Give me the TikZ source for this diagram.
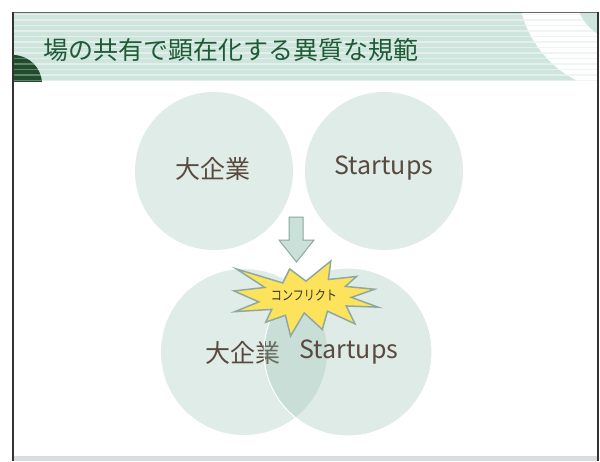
\documentclass[tikz,border=0pt]{standalone}
\usepackage{fontspec}
\newfontfamily\jp{Noto Sans CJK JP}
\definecolor{band}{HTML}{CDE5DC}
\definecolor{stripe}{HTML}{E4EFEB}
\definecolor{stripew}{HTML}{EEF6F3}
\definecolor{darkgreen}{HTML}{1F4D2C}
\definecolor{titlegreen}{HTML}{1E5A35}
\definecolor{circfill}{HTML}{E0ECE8}
\definecolor{circtint}{HTML}{94BEB0}
\definecolor{txtbrown}{HTML}{594A3F}
\definecolor{arrowfill}{HTML}{C9E1D8}
\definecolor{arrowline}{HTML}{8EA79F}
\definecolor{boomfill}{HTML}{FDE35C}
\definecolor{boomline}{HTML}{8FA9A0}
\definecolor{footgray}{HTML}{DADDE0}
\tikzset{
  bigcirc/.style={circle, inner sep=0pt, fill=circfill},
  label24/.style={font=\jp\fontsize{25}{25}\selectfont, text=txtbrown, inner sep=0pt},
  stripeline/.style={line width=1.3pt},
}
\begin{document}
\begin{tikzpicture}[x=1pt,y=-1pt]
\useasboundingbox (0,0) rectangle (600,461);
\fill[white] (0,0) rectangle (600,461);
% header band
\begin{scope}
  \clip (13,12) rectangle (598,81);
  \fill[band] (13,12) rectangle (598,81);
  \foreach \k in {0,...,12} {
    \draw[stripe, stripeline] (13,{14.5+5.5*\k}) -- (598,{14.5+5.5*\k});
  }
  \fill[white] (625,-15) circle (107);
  \begin{scope}
    \clip (625,-15) circle (107);
    \foreach \k in {0,...,12} {
      \draw[stripew, stripeline] (13,{14.5+5.5*\k}) -- (598,{14.5+5.5*\k});
    }
  \end{scope}
  \fill[band] (625,-8) circle (50);
  \fill[darkgreen] (13,84) circle (29);
  \begin{scope}
    \clip (13,84) circle (29);
    \foreach \k in {0,...,12} {
      \draw[white, opacity=0.3, stripeline] (13,{14.5+5.5*\k}) -- (100,{14.5+5.5*\k});
    }
  \end{scope}
\end{scope}
% frame
\fill[footgray] (13,456) rectangle (598,461);
\draw[gray!80!black, line width=1pt] (13,12) -- (598,12);
\draw[black!80, line width=1.5pt] (13,12) -- (13,461);
\draw[black!80, line width=1.5pt] (598,12) -- (598,461);
% title
\node[anchor=west, inner sep=0pt, font=\jp\fontsize{25}{25}\selectfont, text=titlegreen] (title) at (43,50) {場の共有で顕在化する異質な規範};
% top circles
\node[bigcirc, minimum size=158pt] (c1) at (214,171) {};
\node[bigcirc, minimum size=158pt] (c2) at (384,171) {};
\node[label24] (t1) at (213,169) {大企業};
\node[label24] (t2) at (384,168) {Startups};
% arrow
\draw[fill=arrowfill, draw=arrowline, line width=1pt, line join=miter]
  (289,217) -- (303,217) -- (303,240) -- (314,240) -- (296.5,262) -- (279,240) -- (289,240) -- cycle;
% lower circles
\node[bigcirc, minimum size=166pt] (c3) at (244,352) {};
\node[label24] (t3) at (243,353) {大企業};
\node[circle, inner sep=0pt, minimum size=168pt, fill=circtint, fill opacity=0.3, draw=white, line width=1pt] (c4) at (348,352) {};
\node[label24] (t4) at (349,352) {Startups};
% explosion
\begin{scope}[shift={(234,261)}, x={(0.6667pt,0pt)}, y={(0pt,-0.3472pt)}]
  \draw[fill=boomfill, draw=boomline, line width=1.5pt, line join=miter]
    (108,58) -- (145.22,0) -- (141.55,53.25) -- (183.80,44.57) -- (167.02,73.15)
    -- (210.97,81.37) -- (176.07,104.75) -- (216,132.90) -- (168.37,129.42)
    -- (181.45,180.95) -- (140.20,144.57) -- (132.47,197.37) -- (105.32,149.35)
    -- (84.85,216) -- (77.15,156.27) -- (47.62,176.17) -- (56.67,139.37)
    -- (1.35,145.87) -- (37.22,117.75) -- (0,86.15) -- (46.27,76.17)
    -- (3.70,22.95) -- (73.12,63.20) -- (83.52,22.95) -- cycle;
\end{scope}
\node[inner sep=0pt, font=\jp\fontsize{13.5}{13.5}\selectfont, text=black!80, xscale=0.82] (boom) at (304,295) {コンフリクト};
\end{tikzpicture}
\end{document}
